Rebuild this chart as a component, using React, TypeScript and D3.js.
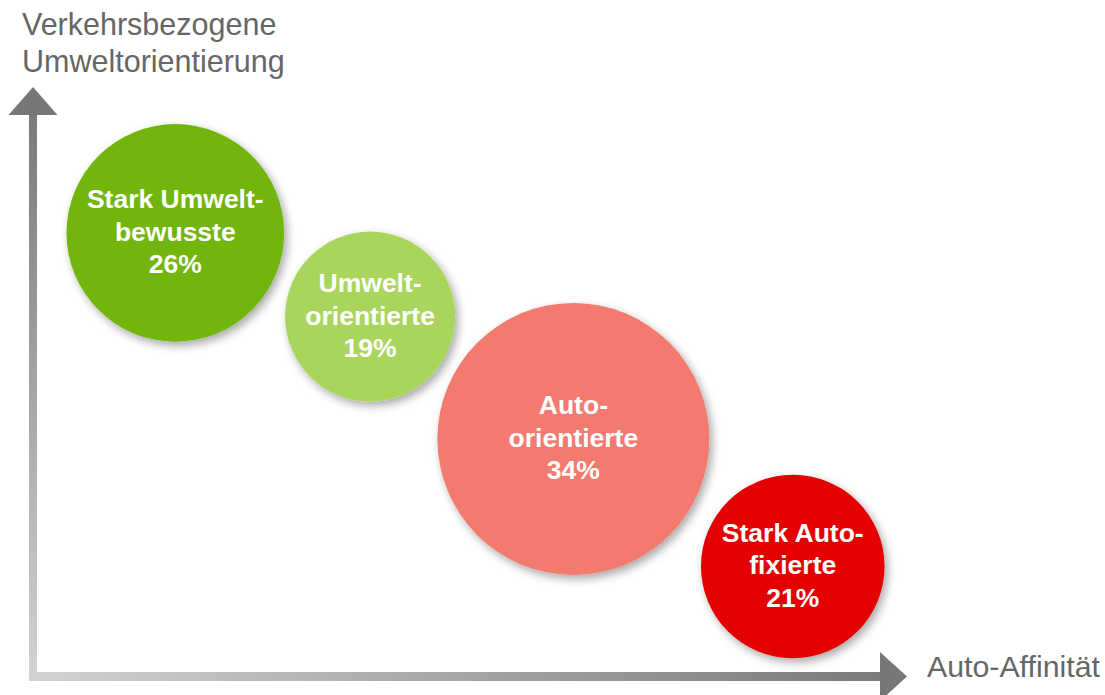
import React from "react";
import * as d3 from "d3";

// ---- data ----
const segmentNames: string[][] = [
  ["Stark Umwelt-", "bewusste"],
  ["Umwelt-", "orientierte"],
  ["Auto-", "orientierte"],
  ["Stark Auto-", "fixierte"],
];
const shares: number[] = [26, 19, 34, 21];
const autoAffinity: number[] = [16.8, 39.8, 63.8, 89.7];
const envOrientation: number[] = [79.0, 64.1, 42.3, 19.6];
const segmentColors: string[] = ["#72b510", "#aad55d", "#f27a6e", "#e50000"];
const yAxisTitle: string[] = ["Verkehrsbezogene", "Umweltorientierung"];
const xAxisTitle = "Auto-Affinität";

const W = 1105;
const H = 695;

export default function App() {
  const originX = 33;
  const originY = 676.5;
  const xEnd = 880;
  const yEnd = 115;

  const x = d3.scaleLinear().domain([0, 100]).range([originX, xEnd]);
  const y = d3.scaleLinear().domain([0, 100]).range([originY, yEnd]);
  const r = d3.scaleLinear().domain([0, 34]).range([20.4, 136]);

  const font = "Arial, 'Liberation Sans', Helvetica, sans-serif";
  const lineGap = 32.5;

  return (
    <svg
      width={W}
      height={H}
      style={{ position: "absolute", left: 0, top: 0, background: "#fff" }}
    >
      <defs>
        <linearGradient id="gv" gradientUnits="userSpaceOnUse" x1={0} y1={originY} x2={0} y2={yEnd}>
          <stop offset="0" stopColor="#d2d2d2" />
          <stop offset="1" stopColor="#7a7a7a" />
        </linearGradient>
        <linearGradient id="gh" gradientUnits="userSpaceOnUse" x1={originX} y1={0} x2={xEnd} y2={0}>
          <stop offset="0" stopColor="#d2d2d2" />
          <stop offset="1" stopColor="#7a7a7a" />
        </linearGradient>
        <filter id="shadow" x="-30%" y="-30%" width="160%" height="160%">
          <feGaussianBlur in="SourceAlpha" stdDeviation="5" />
          <feOffset dx="3" dy="4" result="ob" />
          <feComponentTransfer>
            <feFuncA type="linear" slope="0.35" />
          </feComponentTransfer>
          <feMerge>
            <feMergeNode />
            <feMergeNode in="SourceGraphic" />
          </feMerge>
        </filter>
      </defs>

      {/* axes */}
      <rect x={originX - 4} y={yEnd} width={8} height={originY + 4.5 - yEnd} fill="url(#gv)" />
      <rect x={originX - 4} y={originY - 4.5} width={xEnd - originX + 4} height={9} fill="url(#gh)" />
      <path
        d={`M${originX},${yEnd - 28} L${originX + 24.5},${yEnd} L${originX - 24.5},${yEnd} Z`}
        fill="#777"
      />
      <path
        d={`M${xEnd + 27},${originY} L${xEnd},${originY - 24.5} L${xEnd},${originY + 24.5} Z`}
        fill="#777"
      />

      {/* axis titles */}
      {yAxisTitle.map((t, i) => (
        <text
          key={t}
          x={22}
          y={35 + i * 37}
          fontFamily={font}
          fontSize={30.5}
          fill="#666"
        >
          {t}
        </text>
      ))}
      <text x={927} y={originY} fontFamily={font} fontSize={30.3} fill="#666">
        {xAxisTitle}
      </text>

      {/* bubbles */}
      {shares.map((v, i) => {
        const cx = x(autoAffinity[i]);
        const cy = y(envOrientation[i]);
        const lines = [...segmentNames[i], `${v}%`];
        return (
          <g key={i}>
            <circle cx={cx} cy={cy} r={r(v)} fill={segmentColors[i]} filter="url(#shadow)" />
            {lines.map((ln, j) => (
              <text
                key={j}
                x={cx}
                y={cy + 8 + (j - 1) * lineGap}
                textAnchor="middle"
                fontFamily={font}
                fontWeight="bold"
                fontSize={26.5}
                fill="#fff"
              >
                {ln}
              </text>
            ))}
          </g>
        );
      })}
    </svg>
  );
}
